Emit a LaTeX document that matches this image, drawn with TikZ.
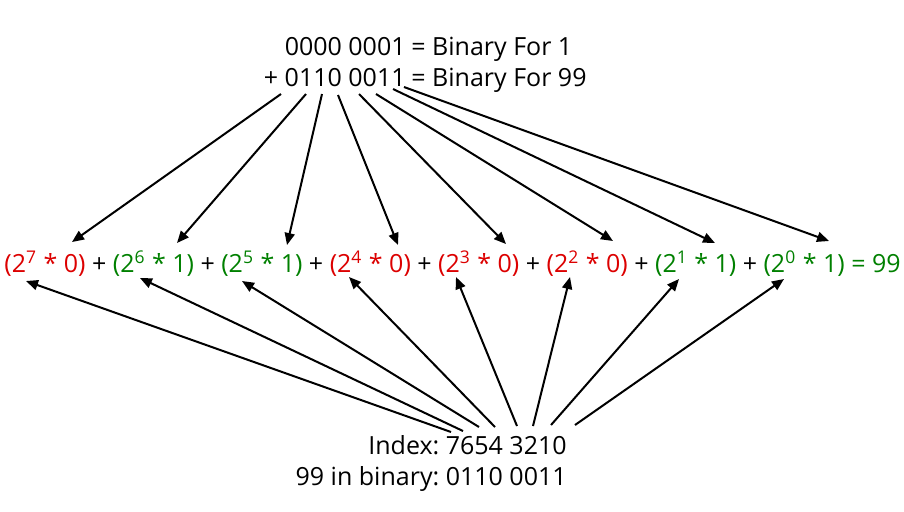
\documentclass[tikz,border=0pt]{standalone}
\usepackage{fontspec}
\setmainfont{Open Sans}
\usepackage{tikz}
\usetikzlibrary{arrows.meta}
\frenchspacing

\definecolor{bitzero}{RGB}{220,0,0}
\definecolor{bitone}{RGB}{0,128,0}
\newcommand{\powterm}[3]{\textcolor{#1}{(2\textsuperscript{#2} * #3)}}

\begin{document}
\begin{tikzpicture}[x=0.5pt, y=-0.5pt,
    every node/.style={font=\fontsize{12.5}{15.5}\selectfont, inner sep=0pt},
    arr/.style={-{Triangle[length=6pt,width=5pt]}, line width=1pt}]
  \useasboundingbox (0,0) rectangle (904,511);

  % the sum on top
  \node[anchor=base east] (sumone) at (406,55) {0000 0001};
  \node[anchor=base east] (sumtwo) at (406,86) {+ 0110 0011};
  \node[anchor=base west] (descone) at (411,55) {= Binary For 1};
  \node[anchor=base west] (desctwo) at (411,86) {= Binary For 99};

  % expansion by powers of two
  \node[anchor=base west] (expand) at (4,272) {\powterm{bitzero}{7}{0} + \powterm{bitone}{6}{1} + \powterm{bitone}{5}{1} + \powterm{bitzero}{4}{0} + \powterm{bitzero}{3}{0} + \powterm{bitzero}{2}{0} + \powterm{bitone}{1}{1} + \textcolor{bitone}{(2\textsuperscript{0} * 1) = 99}};

  % index line at the bottom
  \node[anchor=base east] (index) at (567,454) {Index: 7654 3210};
  \node[anchor=base east] (binary) at (567,485) {99 in binary: 0110 0011};

  % arrow ends
  \foreach \i/\x/\y in {7/281/94, 6/306/94, 5/322/94, 4/338/95, 3/359/94, 2/376/94, 1/393/89, 0/404/87}
    \coordinate (bit\i) at (\x,\y);
  \foreach \i/\x/\y in {7/72/242, 6/177/243, 5/287/245, 4/398/245, 3/506/244, 2/613/241, 1/715/243, 0/829/241}
    \coordinate (val\i) at (\x,\y);
  \foreach \i/\x/\y in {7/451/432, 6/463/431, 5/479/427, 4/495/427, 3/517/426, 2/533/426, 1/551/425, 0/575/425}
    \coordinate (idx\i) at (\x,\y);
  \foreach \i/\x/\y in {7/26/281, 6/140/278, 5/242/281, 4/349/277, 3/456/277, 2/570/277, 1/679/279, 0/784/279}
    \coordinate (pow\i) at (\x,\y);

  \foreach \i in {0,...,7} {
    \draw[arr] (bit\i) -- (val\i);
    \draw[arr] (idx\i) -- (pow\i);
  }
\end{tikzpicture}
\end{document}
